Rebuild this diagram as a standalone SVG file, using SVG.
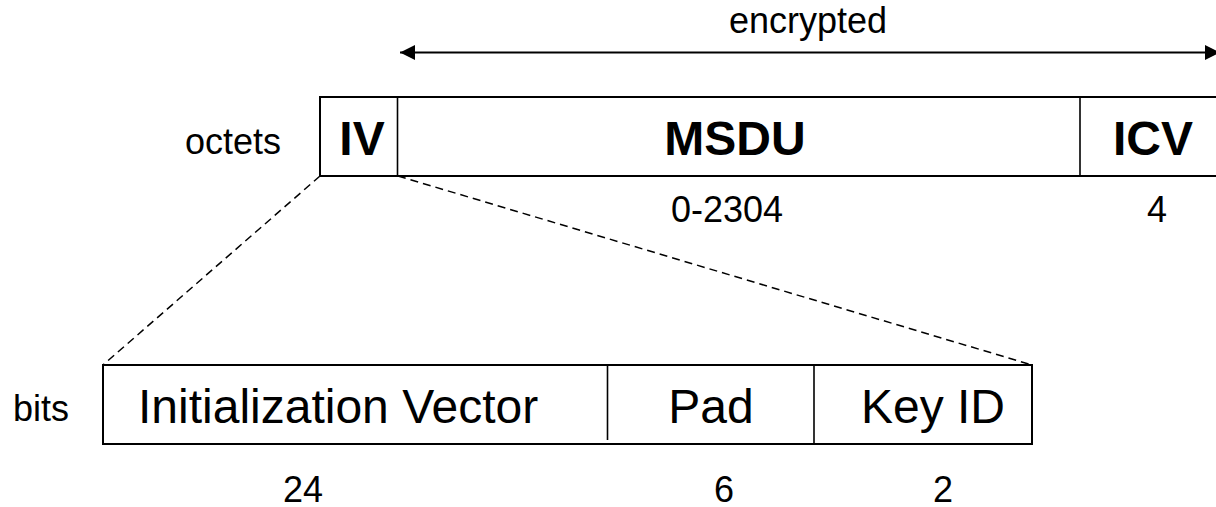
<svg xmlns="http://www.w3.org/2000/svg" width="1216" height="507" viewBox="0 0 1216 507">
<style>
text{font-family:"Liberation Sans",Arial,sans-serif;fill:#000}
.lbl{font-size:36px}
.big{font-size:48px}
.bold{font-size:48px;font-weight:bold}
.box{fill:#fff;stroke:#000;stroke-width:2}
.div{stroke:#000;stroke-width:1.6}
.dash{stroke:#000;stroke-width:1.5;stroke-dasharray:8 5;fill:none}
</style>
<defs>
<marker id="ah" viewBox="0 0 15 15" refX="15" refY="7.5" markerWidth="15" markerHeight="15" markerUnits="userSpaceOnUse" orient="auto-start-reverse">
<path d="M0,0 L15,7.5 L0,15 Z" fill="#000"/>
</marker>
</defs>
<rect width="1216" height="507" fill="#fff"/>
<g id="connectors">
<line x1="400" y1="52.5" x2="1220" y2="52.5" stroke="#000" stroke-width="2" marker-start="url(#ah)" marker-end="url(#ah)"/>
<line class="dash" x1="320" y1="176" x2="103" y2="365"/>
<line class="dash" x1="398" y1="176" x2="1032" y2="365"/>
</g>
<g id="encrypted-label">
<text class="lbl" x="808" y="33" text-anchor="middle">encrypted</text>
</g>
<g id="octets-label">
<text class="lbl" x="185" y="154">octets</text>
</g>
<g id="top-frame">
<rect class="box" x="320" y="97" width="910" height="79"/>
<line class="div" x1="397.5" y1="97" x2="397.5" y2="176"/>
<line class="div" x1="1080" y1="97" x2="1080" y2="176"/>
</g>
<g id="iv">
<text class="bold" x="362" y="155" text-anchor="middle">IV</text>
</g>
<g id="msdu">
<text class="bold" x="735" y="155" text-anchor="middle">MSDU</text>
<text class="lbl" x="727" y="222" text-anchor="middle">0-2304</text>
</g>
<g id="icv">
<text class="bold" x="1153" y="155" text-anchor="middle">ICV</text>
<text class="lbl" x="1157" y="222" text-anchor="middle">4</text>
</g>
<g id="bits-label">
<text class="lbl" x="13" y="421">bits</text>
</g>
<g id="bottom-frame">
<rect class="box" x="103" y="365" width="929" height="79"/>
<line class="div" x1="607.5" y1="365" x2="607.5" y2="440"/>
<line class="div" x1="814" y1="365" x2="814" y2="444"/>
</g>
<g id="init-vector">
<text class="big" x="138" y="423">Initialization Vector</text>
<text class="lbl" x="303" y="502" text-anchor="middle">24</text>
</g>
<g id="pad">
<text class="big" x="711" y="423" text-anchor="middle">Pad</text>
<text class="lbl" x="724" y="502" text-anchor="middle">6</text>
</g>
<g id="key-id">
<text class="big" x="933" y="423" text-anchor="middle">Key ID</text>
<text class="lbl" x="943" y="502" text-anchor="middle">2</text>
</g>
</svg>
